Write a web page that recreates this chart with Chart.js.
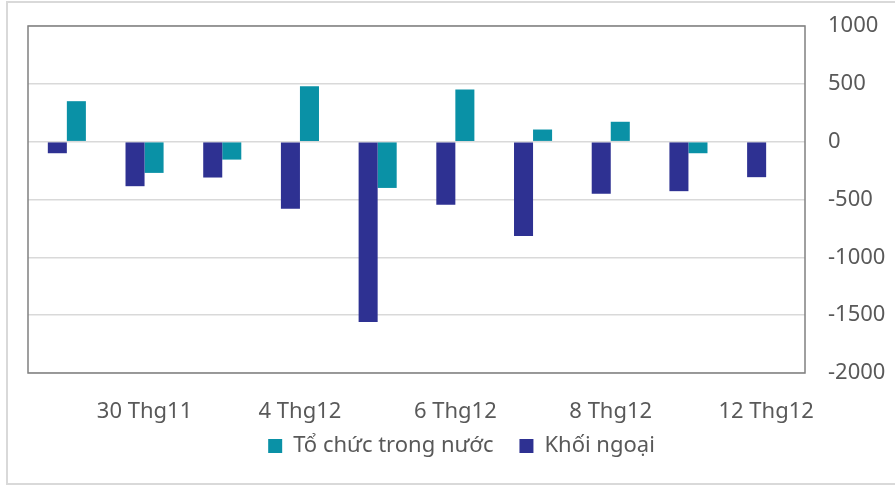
<!DOCTYPE html>
<html>
<head>
<meta charset="utf-8">
<script src="https://cdn.jsdelivr.net/npm/chart.js@4.4.0/dist/chart.umd.min.js"></script>
<style>
html, body { margin: 0; padding: 0; background: #fff; overflow: hidden; }
#khung { position: absolute; left: 6px; top: 1px; width: 900px; height: 480px; border: 2px solid #d9d9d9; border-right: none; }
#wrap { position: absolute; left: 0; top: 0; width: 895px; height: 485px; }
</style>
</head>
<body>
<div id="khung"></div>
<div id="wrap"><canvas id="bieuDo" width="895" height="485"></canvas></div>
<script>
// ngay giao dich
const ngay = ['29 Thg11', '30 Thg11', '1 Thg12', '4 Thg12', '5 Thg12', '6 Thg12', '7 Thg12', '8 Thg12', '11 Thg12', '12 Thg12'];
// gia tri mua/ban rong (ty dong)
const khoiNgoai = [-100, -385, -310, -580, -1560, -545, -815, -450, -428, -307];
const toChucTrongNuoc = [350, -270, -155, 480, -400, 450, 105, 172, -100, 0];
// truc tung
const yMin = -2000;
const yMax = 1000;
const yBuoc = 500;

const mauChu = '#595959';
const phongChu = { family: "'Noto Sans', 'DejaVu Sans', sans-serif", size: 22 };

//------ khung vien vung ve ------//
const vienVungVe = {
  id: 'vienVungVe',
  afterLayout(chart) {
    // cho nhan truc x khong bi cat (vung cat = khung cua truc)
    chart.scales.x.bottom = chart.legend.bottom;
  },
  afterDatasetsDraw(chart) {
    const { ctx, chartArea: a } = chart;
    ctx.save();
    ctx.strokeStyle = '#808080';
    ctx.lineWidth = 1.5;
    ctx.strokeRect(a.left, a.top, a.right - a.left, a.bottom - a.top);
    ctx.restore();
  }
};

let ctx = document.querySelector('#bieuDo');
let bieuDo = new Chart(ctx, {
  type: 'bar',
  data: {
    labels: ngay,
    datasets: [{
      label: 'Khối ngoại',
      data: khoiNgoai,
      backgroundColor: '#2E3192'
    }, {
      label: 'Tổ chức trong nước',
      data: toChucTrongNuoc,
      backgroundColor: '#0A91A6'
    }]
  },
  options: {
    responsive: false,
    animation: false,
    categoryPercentage: 0.49,
    barPercentage: 1.0,
    layout: { padding: { left: 28, top: 26, right: 0, bottom: 18 } },
    plugins: {
      tooltip: { enabled: false },
      legend: {
        position: 'bottom',
        reverse: true,
        labels: {
          boxWidth: 14,
          boxHeight: 14,
          padding: 26,
          color: mauChu,
          font: phongChu
        }
      }
    },
    scales: {
      x: {
        grid: { display: false },
        border: { display: false },
        ticks: {
          autoSkip: false,
          maxRotation: 0,
          padding: 18,
          color: mauChu,
          font: phongChu,
          callback: function (v, i) {
            return i % 2 === 1 ? this.getLabelForValue(v) : '';
          }
        },
        afterFit: function (s) { s.height = 36; }
      },
      y: {
        position: 'right',
        min: yMin,
        max: yMax,
        grid: { color: '#d9d9d9', lineWidth: 1.5, drawTicks: true, tickLength: 23, tickColor: 'rgba(0,0,0,0)' },
        border: { display: false },
        ticks: {
          stepSize: yBuoc,
          padding: 0,
          color: mauChu,
          font: phongChu,
          callback: function (v) { return String(v); }
        },
        afterFit: function (s) { s.width = 90; }
      }
    }
  },
  plugins: [vienVungVe]
});
</script>
</body>
</html>
